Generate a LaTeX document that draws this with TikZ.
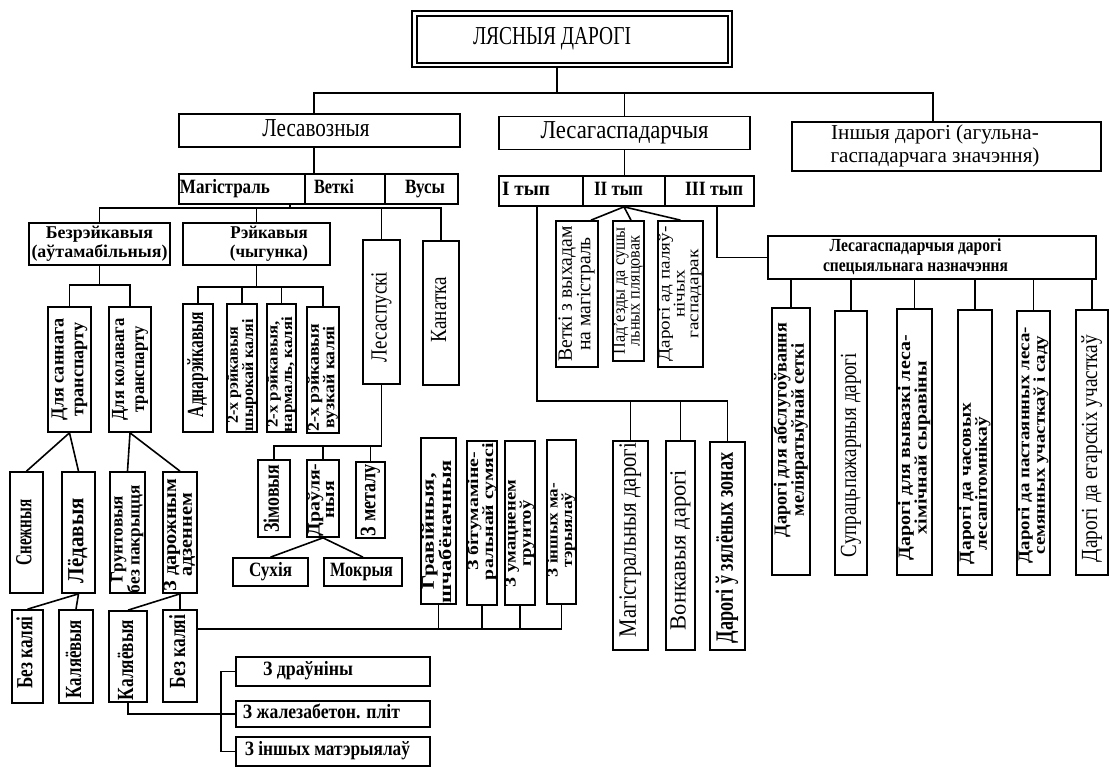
\documentclass[tikz,border=0pt]{standalone}
\usepackage{fontspec}
\setmainfont{Liberation Serif}
\usepackage{graphicx}
\newcommand\HTX[4][0pt]{\hspace*{#1}\resizebox*{#2}{#3}{\begin{tabular}{@{}c@{}}#4\end{tabular}}\hspace*{-#1}}
\newcommand\VTX[4][0pt]{\rotatebox{90}{\HTX[#1]{#2}{#3}{#4}}}
\newcommand\VTM[4][0pt]{\rotatebox{90}{\fontsize{12}{10}\selectfont\HTX[#1]{#2}{#3}{#4}}}
\begin{document}
\begin{tikzpicture}[x=1pt,y=-1pt,
 box/.style={draw, line width=1.7pt, inner sep=0pt, font=\fontsize{12}{13}\selectfont},
 bbox/.style={box, font=\fontsize{12}{13}\selectfont\bfseries},
 ln/.style={line width=1.6pt}]
\useasboundingbox (0,0) rectangle (1109,768);

% title
\node[box, minimum width=320, minimum height=56] (title) at (572,39) {\HTX[-20pt]{158pt}{28pt}{ЛЯСНЫЯ ДАРОГІ}};
\draw[line width=1.7pt] ([shift={(6,6)}]title.north west) rectangle ([shift={(-5,-5)}]title.south east);

% level 1
\node[box, minimum width=281, minimum height=33] (nlv) at (319.5,130.5) {\HTX[-3.5pt]{107pt}{28pt}{Лесавозныя}};
\node[box, minimum width=251, minimum height=33] (nlg) at (624.5,133) {\HTX{168pt}{28pt}{Лесагаспадарчыя}};
\node[box, minimum width=309, minimum height=49] (nins) at (946.5,146.5) {\HTX[-11.5pt]{209pt}{46pt}{Іншыя дарогі (агульна-\\гаспадарчага значэння)}};

% rows
\node[bbox, minimum width=126, minimum height=30] (nmag) at (242,189) {\HTX[-17pt]{90pt}{22pt}{Магістраль}};
\node[bbox, minimum width=80, minimum height=30] (nvet) at (345,189) {\HTX[-11pt]{40pt}{22pt}{Веткі}};
\node[bbox, minimum width=73, minimum height=30] (nvus) at (421.5,189) {\HTX[3.5pt]{40pt}{22pt}{Вусы}};
\node[bbox, minimum width=84, minimum height=30] (nt1) at (541,191) {\HTX[-15pt]{48pt}{22pt}{I тып}};
\node[bbox, minimum width=82, minimum height=30] (nt2) at (624,191) {\HTX[-5.5pt]{49pt}{22pt}{II тып}};
\node[bbox, minimum width=89, minimum height=30] (nt3) at (709.5,191) {\HTX[4.5pt]{58pt}{22pt}{III тып}};

% lesavoznyja branch
\node[bbox, minimum width=141, minimum height=42] (nbz) at (99.5,244) {\HTX{136pt}{39pt}{Безрэйкавыя\\(аўтамабільныя)}};
\node[bbox, minimum width=147, minimum height=42] (nrk) at (256.5,244) {\HTX[12.5pt]{78pt}{39pt}{Рэйкавыя\\(чыгунка)}};
\node[box, minimum width=37, minimum height=144] (nls) at (381.5,312) {\VTX[-5pt]{90pt}{25pt}{Лесаспускі}};
\node[box, minimum width=36, minimum height=144] (nkan) at (441,313) {\VTX[3.5pt]{65pt}{25pt}{Канатка}};

\node[bbox, minimum width=43, minimum height=125] (nds) at (69.5,369.5) {\VTX{102pt}{40pt}{Для саннага\\транспарту}};
\node[bbox, minimum width=42, minimum height=125] (ndk) at (130,369.5) {\VTX{102pt}{40pt}{Для колавага\\транспарту}};

\node[bbox, minimum width=33, minimum height=121] (nsn) at (26.5,532.5) {\VTX{66pt}{25pt}{Снежныя}};
\node[bbox, minimum width=33, minimum height=121] (nld) at (78.5,532.5) {\VTX[-8pt]{85pt}{25pt}{Лёдавыя}};
\node[bbox, minimum width=35, minimum height=121] (ngr) at (127.5,532.5) {\VTM[-6.5pt]{108pt}{33pt}{Грунтовыя\\без пакрыцця}};
\node[bbox, minimum width=34, minimum height=121] (nzd) at (180,532.5) {\VTM[-2.5pt]{113pt}{33pt}{З дарожным\\адзеннем}};

\node[bbox, minimum width=31, minimum height=93] (nbk1) at (27.5,656.5) {\VTX[4pt]{72pt}{25pt}{Без каляі}};
\node[bbox, minimum width=34, minimum height=93] (nkl1) at (76,656.5) {\VTX[-2.5pt]{78pt}{25pt}{Каляёвыя}};
\node[bbox, minimum width=38, minimum height=91] (nkl2) at (128,656.5) {\VTX[-3.5pt]{80pt}{25pt}{Каляёвыя}};
\node[bbox, minimum width=34, minimum height=92] (nbk2) at (180,656) {\VTX[4.5pt]{73pt}{25pt}{Без каляі}};

\node[bbox, minimum width=30, minimum height=128] (na1) at (198,368) {\VTX[3.5pt]{105pt}{25pt}{Аднарэйкавыя}};
\node[bbox, minimum width=30, minimum height=128] (na2) at (242,368) {\VTM[-7pt]{112pt}{30pt}{2-х рэйкавыя\\шырокай каляі}};
\node[bbox, minimum width=29, minimum height=128] (na3) at (281.5,368) {\VTM[-6.5pt]{115pt}{29pt}{2-х рэйкавыя,\\нармаль, каляі}};
\node[bbox, minimum width=32, minimum height=126] (na4) at (323,370) {\VTM[-7.5pt]{108pt}{31pt}{2-х рэйкавыя\\вузкай каляі}};

\node[bbox, minimum width=32, minimum height=77] (nzi) at (274,498.5) {\VTX{68pt}{24pt}{Зімовыя}};
\node[bbox, minimum width=32, minimum height=77] (ndw) at (323,498.5) {\VTM[-1.5pt]{73pt}{31pt}{Драўля-\\ныя}};
\node[bbox, minimum width=29, minimum height=76] (nzm) at (370.5,500) {\VTX{72pt}{24pt}{З металу}};
\node[bbox, minimum width=75, minimum height=28] (nsu) at (270.5,572) {\HTX{43pt}{22pt}{Сухія}};
\node[bbox, minimum width=78, minimum height=28] (nmo) at (363,572) {\HTX[-1.5pt]{63pt}{22pt}{Мокрыя}};

\node[bbox, minimum width=35, minimum height=166] (nm1) at (438.5,521) {\VTM[-10.5pt]{143pt}{34pt}{Гравійныя,\\шчабёначныя}};
\node[bbox, minimum width=30, minimum height=164] (nm2) at (482,523) {\VTM[11.5pt]{137pt}{30pt}{З бітумаміне-\\ральнай сумясі}};
\node[bbox, minimum width=30, minimum height=164] (nm3) at (520,523) {\VTM[-10.5pt]{107pt}{30pt}{З умацненем\\грунтоў}};
\node[bbox, minimum width=29, minimum height=164] (nm4) at (561.5,522) {\VTM[-8pt]{94pt}{29pt}{З іншых ма-\\тэрыялаў}};

\node[bbox, minimum width=194, minimum height=29] (ndr) at (333,671.5) {\HTX[-25pt]{90pt}{22pt}{З драўніны}};
\node[bbox, minimum width=194, minimum height=26] (njal) at (333,714) {\HTX[-11.5pt]{157pt}{22pt}{З жалезабетон. пліт}};
\node[bbox, minimum width=194, minimum height=29] (nim) at (333,751.5) {\HTX[-5.5pt]{165pt}{22pt}{З іншых матэрыялаў}};

% lesagaspadarchyja branch
\node[box, minimum width=42, minimum height=146] (nvv) at (577,294) {\VTM{135pt}{37pt}{Веткі з выхадам\\на магістраль}};
\node[box, minimum width=31, minimum height=140] (npd) at (628.5,291) {\VTM{127pt}{31pt}{Пад’езды да сушы\\льных пляцовак}};
\node[box, minimum width=45, minimum height=146] (npa) at (680.5,294) {\VTM{135pt}{44pt}{Дарогі ад паляў-\\нічых\\гаспадарак}};

\node[box, minimum width=35, minimum height=209] (nmd) at (630.5,545.5) {\VTX[5.5pt]{194pt}{27pt}{Магістральныя дарогі}};
\node[box, minimum width=29, minimum height=209] (nvd) at (680.5,545.5) {\VTX[-4.5pt]{160pt}{25pt}{Вонкавыя дарогі}};
\node[bbox, minimum width=35, minimum height=208] (nzz) at (727.5,546) {\VTX[-2pt]{191pt}{27pt}{Дарогі ў зялёных зонах}};

\node[bbox, minimum width=328, minimum height=43] (nsp) at (932,257.5) {\HTX[-16.5pt]{185pt}{40pt}{Лесагаспадарчыя дарогі\\спецыяльнага назначэння}};
\node[bbox, minimum width=38, minimum height=267] (s1) at (791,441.5) {\VTM[11.5pt]{214pt}{35pt}{Дарогі для абслугоўвання\\меліяратыўнай сеткі}};
\node[box, minimum width=32, minimum height=264] (s2) at (851,443) {\VTX[-12pt]{204pt}{25pt}{Супрацьпажарныя дарогі}};
\node[bbox, minimum width=35, minimum height=266] (s3) at (914.5,442) {\VTM[-5.5pt]{225pt}{33pt}{Дарогі для вывазкі леса-\\хімічнай сыравіны}};
\node[bbox, minimum width=34, minimum height=265] (s4) at (975,442.5) {\VTM[-41pt]{161pt}{32pt}{Дарогі да часовых\\лесапітомнікаў}};
\node[bbox, minimum width=33, minimum height=264] (s5) at (1033.5,443) {\VTM[-2pt]{236pt}{31pt}{Дарогі да пастаянных леса-\\семянных участкаў і саду}};
\node[box, minimum width=32, minimum height=265] (s6) at (1092,442.5) {\VTX[-6pt]{227pt}{25pt}{Дарогі да егарскіх участкаў}};

% ---------- connectors
\coordinate (L1) at (557,93);
\coordinate (h1a) at (314,93);
\coordinate (h1b) at (933,93);
\draw[ln] (title.south -| L1) -- (L1);
\draw[ln] (nlv.north -| h1a) -- (h1a) -- (h1b) -- (nins.north -| h1b);
\draw[ln] (nlg.north) -- (nlg.north |- L1);
\draw[ln] (nlv.south -| h1a) -- (nvet.north -| h1a);
\draw[ln] (nlg.south) -- (nlg.south |- nt2.north);

\coordinate (b2) at (290,208);
\draw[ln] (nmag.south -| b2) -- (b2);
\draw[ln] (nbz.north) |- (b2) -| (nkan.north);
\draw[ln] (nrk.north) -- (nrk.north |- b2);
\draw[ln] (nls.north) -- (nls.north |- b2);

\coordinate (b3) at (0,285);
\draw[ln] (nbz.south) -- (nbz.south |- b3);
\draw[ln] (nds.north) -- (nds.north |- b3) -- (ndk.north |- b3) -- (ndk.north);
\draw[ln] (nsn.north) -- (nds.south) -- (nld.north);
\draw[ln] (ngr.north) -- (ndk.south) -- (nzd.north);
\draw[ln] (nbk1.north) -- (nld.south) -- (nkl1.north);
\draw[ln] (nkl2.north) -- (nzd.south) -- (nbk2.north);

\coordinate (y629) at (0,629);
\draw[ln] (nbk2.east |- y629) -| (nm4.south);
\draw[ln] (nm1.south) -- (nm1.south |- y629);
\draw[ln] (nm2.south) -- (nm2.south |- y629);
\draw[ln] (nm3.south) -- (nm3.south |- y629);

\coordinate (br) at (221,0);
\draw[ln] (nkl2.south) |- (njal.west);
\draw[ln] (ndr.west) -- (ndr.west -| br) -- (nim.west -| br) -- (nim.west);

\coordinate (b4) at (0,287);
\draw[ln] (nrk.south) -- (nrk.south |- b4);
\draw[ln] (na1.north) -- (na1.north |- b4) -- (na4.north |- b4) -- (na4.north);
\draw[ln] (na2.north) -- (na2.north |- b4);
\draw[ln] (na3.north) -- (na3.north |- b4);

\coordinate (b5) at (0,446);
\draw[ln] (nls.south) -- (nls.south |- b5) -- (nzi.north |- b5) -- (nzi.north);
\draw[ln] (ndw.north) -- (ndw.north |- b5);
\draw[ln] (nzm.north) -- (nzm.north |- b5);
\draw[ln] (nsu.north) -- (ndw.south) -- (nmo.north);

\coordinate (b6) at (537,401);
\draw[ln] (nt1.south -| b6) -- (b6) -| (nzz.north);
\draw[ln] (nmd.north) -- (nmd.north |- b6);
\draw[ln] (nvd.north) -- (nvd.north |- b6);

\draw[ln] ([xshift=14pt]nvv.north) -- (nt2.south) -- ([xshift=2.5pt]npd.north);
\draw[ln] (nt2.south) -- (npa.north);

\coordinate (c3) at (717,258);
\draw[ln] (nt3.south -| c3) |- (nsp.west);
\foreach \s in {s1,s2,s3,s4,s5,s6} \draw[ln] (\s.north) -- (\s.north |- nsp.south);
\end{tikzpicture}
\end{document}
